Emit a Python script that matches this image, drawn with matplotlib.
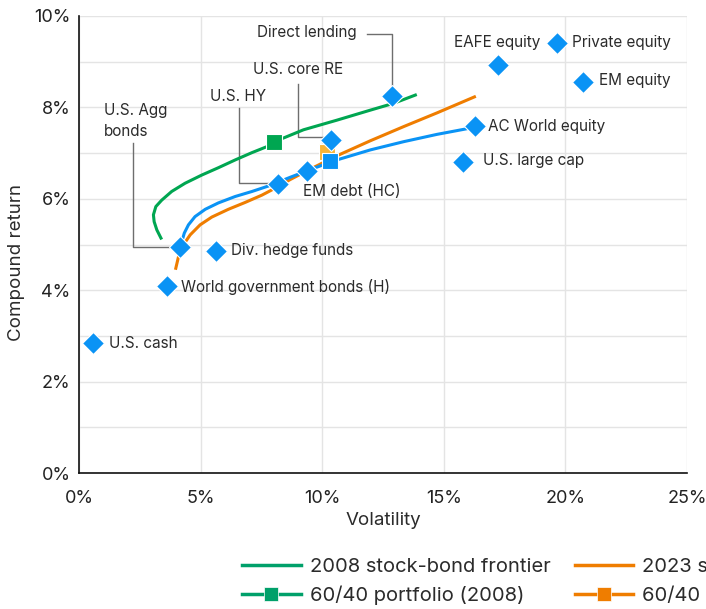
import matplotlib
matplotlib.use("Agg")
import matplotlib.pyplot as plt
from matplotlib.lines import Line2D
from matplotlib.ticker import MultipleLocator, FuncFormatter

plt.rcParams['font.family'] = ['Inter', 'DejaVu Sans']

# asset classes: volatility (%), compound return (%)
assets = ["U.S. cash", "World government bonds (H)", "U.S. Agg bonds", "Div. hedge funds",
          "U.S. HY", "EM debt (HC)", "U.S. core RE", "Direct lending", "EAFE equity",
          "Private equity", "EM equity", "AC World equity", "U.S. large cap"]
asset_vol = [0.58, 3.62, 4.16, 5.64, 8.19, 9.38, 10.37, 12.88, 17.24, 19.67, 20.74, 16.30, 15.80]
asset_ret = [2.84, 4.09, 4.95, 4.86, 6.32, 6.61, 7.29, 8.25, 8.93, 9.41, 8.56, 7.59, 6.81]

# frontiers
front_2008_vol = [3.37, 3.20, 3.09, 3.06, 3.16, 3.40, 3.81, 4.36, 5.05, 5.73, 6.42, 7.11,
                  7.72, 8.02, 8.27, 9.23, 10.60, 11.98, 12.94, 13.83]
front_2008_ret = [5.14, 5.32, 5.50, 5.65, 5.83, 5.97, 6.16, 6.34, 6.52, 6.68, 6.85, 7.01,
                  7.14, 7.22, 7.30, 7.51, 7.72, 7.94, 8.09, 8.27]
front_2023_vol = [3.98, 4.09, 4.29, 4.57, 4.98, 5.46, 6.14, 6.83, 7.52, 8.20, 8.68, 9.51,
                  10.60, 11.98, 13.35, 14.72, 16.26]
front_2023_ret = [4.48, 4.73, 4.99, 5.21, 5.43, 5.60, 5.77, 5.92, 6.08, 6.27, 6.42, 6.65,
                  6.94, 7.27, 7.58, 7.88, 8.23]
front_alt_vol = [4.22, 4.33, 4.50, 4.77, 5.19, 5.73, 6.42, 7.11, 7.79, 8.68, 9.51, 10.60,
                 11.98, 13.35, 14.72, 16.02]
front_alt_ret = [5.05, 5.25, 5.43, 5.61, 5.77, 5.91, 6.05, 6.16, 6.28, 6.47, 6.64, 6.85,
                 7.07, 7.25, 7.41, 7.54]

# 60/40 portfolios
p6040_2008 = (8.02, 7.24)
p6040_2023 = (10.20, 7.02)
p6040_alt = (10.33, 6.83)

GREEN = "#00a651"
ORANGE = "#ef7d00"
YELLOW = "#f8b437"
BLUE = "#0a93f5"
TXT = "#2b2b2b"
LEAD = "#6e6e6e"

fig = plt.figure(figsize=(7.06, 6.09), dpi=100)
ax = fig.add_axes([79/706, 136/609, 608/706, 457/609])

ax.plot(front_2008_vol, front_2008_ret, color=GREEN, lw=2.2, zorder=3)
ax.plot(front_2023_vol, front_2023_ret, color=ORANGE, lw=2.2, zorder=3)
ax.plot(front_alt_vol, front_alt_ret, color=BLUE, lw=2.2, zorder=3)

ax.plot(*p6040_2008, marker="s", ms=11, color=GREEN, mec="white", mew=0.8, zorder=5)
ax.plot(*p6040_2023, marker="s", ms=11, color=YELLOW, mec="white", mew=0.8, zorder=5)
ax.plot(*p6040_alt, marker="s", ms=11, color=BLUE, mec="white", mew=0.8, zorder=6)

ax.plot(asset_vol, asset_ret, ls="none", marker="D", ms=11, color=BLUE,
        mec="white", mew=0.8, zorder=7)

# leader lines
ax.plot([11.85, 12.88, 12.88], [9.61, 9.61, 8.42], color=LEAD, lw=1, zorder=2)
ax.plot([9.01, 9.01, 10.12], [8.51, 7.35, 7.35], color=LEAD, lw=1, zorder=2)
ax.plot([6.58, 6.58, 7.86], [7.99, 6.35, 6.35], color=LEAD, lw=1, zorder=2)
ax.plot([2.22, 2.22, 3.87], [7.22, 4.95, 4.95], color=LEAD, lw=1, zorder=2)

fs = 11
ax.text(11.4, 9.63, "Direct lending", ha="right", va="center", fontsize=fs, color=TXT)
ax.text(7.16, 8.82, "U.S. core RE", ha="left", va="center", fontsize=fs, color=TXT)
ax.text(5.39, 8.23, "U.S. HY", ha="left", va="center", fontsize=fs, color=TXT)
ax.text(1.03, 7.71, "U.S. Agg\nbonds", ha="left", va="center", fontsize=fs, color=TXT,
        linespacing=1.5)
ax.text(6.26, 4.86, "Div. hedge funds", ha="left", va="center", fontsize=fs, color=TXT)
ax.text(4.20, 4.07, "World government bonds (H)", ha="left", va="center", fontsize=fs, color=TXT)
ax.text(1.23, 2.84, "U.S. cash", ha="left", va="center", fontsize=fs, color=TXT)
ax.text(9.22, 6.15, "EM debt (HC)", ha="left", va="center", fontsize=fs, color=TXT)
ax.text(16.83, 7.59, "AC World equity", ha="left", va="center", fontsize=fs, color=TXT)
ax.text(16.63, 6.83, "U.S. large cap", ha="left", va="center", fontsize=fs, color=TXT)
ax.text(18.97, 9.41, "EAFE equity", ha="right", va="center", fontsize=fs, color=TXT)
ax.text(20.29, 9.41, "Private equity", ha="left", va="center", fontsize=fs, color=TXT)
ax.text(21.40, 8.58, "EM equity", ha="left", va="center", fontsize=fs, color=TXT)

ax.set_xlim(0, 25)
ax.set_ylim(0, 10)
ax.xaxis.set_major_locator(MultipleLocator(5))
ax.yaxis.set_major_locator(MultipleLocator(2))
ax.yaxis.set_minor_locator(MultipleLocator(1))
pct = FuncFormatter(lambda v, p: f"{v:.0f}%")
ax.xaxis.set_major_formatter(pct)
ax.yaxis.set_major_formatter(pct)
ax.grid(True, which="major", color="#e4e4e4", lw=1)
ax.grid(True, which="minor", axis="y", color="#e4e4e4", lw=1)
ax.set_axisbelow(True)
ax.tick_params(which="both", length=0, labelsize=13, colors="#222222")
ax.tick_params(axis="x", pad=12)
ax.tick_params(axis="y", pad=6)
for s in ["top", "right"]:
    ax.spines[s].set_visible(False)
for s in ["left", "bottom"]:
    ax.spines[s].set_color("#111111")
    ax.spines[s].set_linewidth(1.2)

ax.set_xlabel("Volatility", fontsize=13.5, color=TXT, labelpad=4)
ax.set_ylabel("Compound return", fontsize=13.5, color=TXT, labelpad=6)
ax.yaxis.set_label_coords(-0.088, 0.46)

handles = [
    Line2D([], [], color="#00a06a", lw=2.5),
    Line2D([], [], color="#00a06a", lw=2.5, marker="s", ms=10, mec="white", mew=0.5),
    Line2D([], [], color=ORANGE, lw=2.5),
    Line2D([], [], color=ORANGE, lw=2.5, marker="s", ms=10, mec="white", mew=0.5),
]
labels = ["2008 stock-bond frontier", "60/40 portfolio (2008)",
          "2023 stock-bond frontier", "60/40 portfolio (2023)"]
fig.legend(handles, labels, ncol=2, loc="upper left", bbox_to_anchor=(224/706, 1 - 540/609),
           frameon=False, fontsize=14.5, handlelength=2.9, columnspacing=1.2,
           labelspacing=0.45, handletextpad=0.45, labelcolor=TXT)

fig.savefig("out.png", dpi=100)
